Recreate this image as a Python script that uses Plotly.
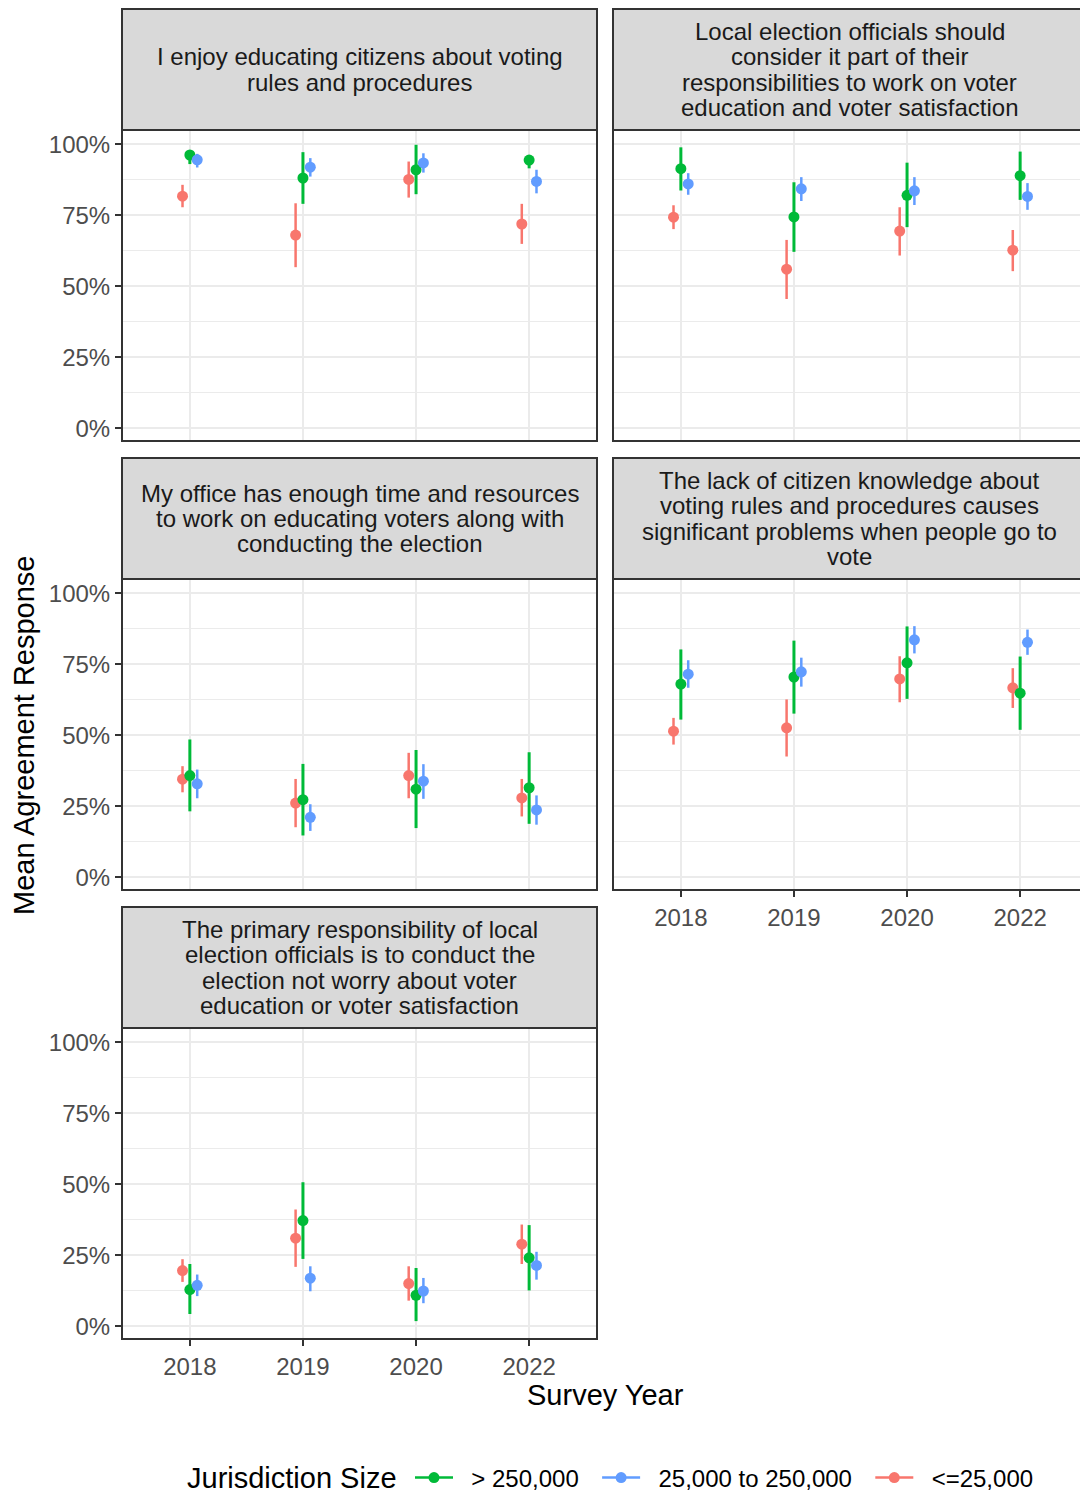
import plotly.graph_objects as go

# ---------------- data ----------------
years = ["2018", "2019", "2020", "2022"]
groups = ["> 250,000", "25,000 to 250,000", "<=25,000"]
colors = {"> 250,000": "#00BA38", "25,000 to 250,000": "#619CFF", "<=25,000": "#F8766D"}

titles = [
    ["I enjoy educating citizens about voting", "rules and procedures"],
    ["Local election officials should", "consider it part of their",
     "responsibilities to work on voter", "education and voter satisfaction"],
    ["My office has enough time and resources", "to work on educating voters along with",
     "conducting the election"],
    ["The lack of citizen knowledge about", "voting rules and procedures causes",
     "significant problems when people go to", "vote"],
    ["The primary responsibility of local", "election officials is to conduct the",
     "election not worry about voter", "education or voter satisfaction"],
]

# panel 1: I enjoy educating citizens
p1_large_mean = [0.962, 0.881, 0.910, 0.944]
p1_large_lo   = [0.930, 0.790, 0.824, 0.915]
p1_large_hi   = [0.975, 0.972, 0.998, 0.960]
p1_mid_mean   = [0.945, 0.919, 0.934, 0.869]
p1_mid_lo     = [0.918, 0.886, 0.900, 0.827]
p1_mid_hi     = [0.966, 0.951, 0.968, 0.910]
p1_small_mean = [0.817, 0.680, 0.876, 0.719]
p1_small_lo   = [0.778, 0.567, 0.812, 0.649]
p1_small_hi   = [0.857, 0.792, 0.939, 0.790]

# panel 2: Local election officials should consider...
p2_large_mean = [0.914, 0.744, 0.820, 0.889]
p2_large_lo   = [0.837, 0.621, 0.708, 0.804]
p2_large_hi   = [0.989, 0.866, 0.935, 0.974]
p2_mid_mean   = [0.860, 0.843, 0.836, 0.816]
p2_mid_lo     = [0.822, 0.800, 0.786, 0.769]
p2_mid_hi     = [0.898, 0.884, 0.884, 0.863]
p2_small_mean = [0.743, 0.560, 0.694, 0.627]
p2_small_lo   = [0.701, 0.455, 0.608, 0.553]
p2_small_hi   = [0.785, 0.663, 0.778, 0.698]

# panel 3: My office has enough time and resources
p3_large_mean = [0.358, 0.273, 0.310, 0.315]
p3_large_lo   = [0.232, 0.147, 0.173, 0.188]
p3_large_hi   = [0.485, 0.399, 0.448, 0.440]
p3_mid_mean   = [0.329, 0.211, 0.338, 0.237]
p3_mid_lo     = [0.278, 0.163, 0.276, 0.185]
p3_mid_hi     = [0.379, 0.257, 0.398, 0.288]
p3_small_mean = [0.345, 0.261, 0.358, 0.279]
p3_small_lo   = [0.299, 0.176, 0.278, 0.214]
p3_small_hi   = [0.391, 0.346, 0.438, 0.346]

# panel 4: The lack of citizen knowledge...
p4_large_mean = [0.680, 0.705, 0.755, 0.648]
p4_large_lo   = [0.555, 0.576, 0.628, 0.519]
p4_large_hi   = [0.802, 0.833, 0.883, 0.777]
p4_mid_mean   = [0.715, 0.723, 0.836, 0.827]
p4_mid_lo     = [0.667, 0.671, 0.788, 0.783]
p4_mid_hi     = [0.764, 0.773, 0.884, 0.872]
p4_small_mean = [0.514, 0.526, 0.698, 0.667]
p4_small_lo   = [0.467, 0.425, 0.616, 0.596]
p4_small_hi   = [0.561, 0.626, 0.778, 0.736]

# panel 5: The primary responsibility...
p5_large_mean = [0.129, 0.372, 0.109, 0.241]
p5_large_lo   = [0.043, 0.237, 0.018, 0.126]
p5_large_hi   = [0.219, 0.507, 0.205, 0.356]
p5_mid_mean   = [0.144, 0.169, 0.124, 0.214]
p5_mid_lo     = [0.106, 0.123, 0.081, 0.164]
p5_mid_hi     = [0.182, 0.211, 0.170, 0.262]
p5_small_mean = [0.196, 0.310, 0.150, 0.289]
p5_small_lo   = [0.156, 0.209, 0.090, 0.219]
p5_small_hi   = [0.236, 0.411, 0.211, 0.358]

panels = [
    {"> 250,000": (p1_large_mean, p1_large_lo, p1_large_hi),
     "25,000 to 250,000": (p1_mid_mean, p1_mid_lo, p1_mid_hi),
     "<=25,000": (p1_small_mean, p1_small_lo, p1_small_hi)},
    {"> 250,000": (p2_large_mean, p2_large_lo, p2_large_hi),
     "25,000 to 250,000": (p2_mid_mean, p2_mid_lo, p2_mid_hi),
     "<=25,000": (p2_small_mean, p2_small_lo, p2_small_hi)},
    {"> 250,000": (p3_large_mean, p3_large_lo, p3_large_hi),
     "25,000 to 250,000": (p3_mid_mean, p3_mid_lo, p3_mid_hi),
     "<=25,000": (p3_small_mean, p3_small_lo, p3_small_hi)},
    {"> 250,000": (p4_large_mean, p4_large_lo, p4_large_hi),
     "25,000 to 250,000": (p4_mid_mean, p4_mid_lo, p4_mid_hi),
     "<=25,000": (p4_small_mean, p4_small_lo, p4_small_hi)},
    {"> 250,000": (p5_large_mean, p5_large_lo, p5_large_hi),
     "25,000 to 250,000": (p5_mid_mean, p5_mid_lo, p5_mid_hi),
     "<=25,000": (p5_small_mean, p5_small_lo, p5_small_hi)},
]

y_tickvals = [0, 0.25, 0.5, 0.75, 1.0]
y_ticktext = ["0%", "25%", "50%", "75%", "100%"]
y_minor = [0.125, 0.375, 0.625, 0.875]

# ---------------- layout geometry ----------------
W, H = 1080, 1494
FONT = "Liberation Sans, Arial, Helvetica, sans-serif"
TXT = 24
dodge = {"<=25,000": -0.065, "> 250,000": 0.0, "25,000 to 250,000": 0.065}

col_px = [(122, 597), (613, 1088)]
rows_px = [(9, 130, 441), (458, 579, 890), (907, 1028, 1339)]
pos = [(0, 0), (0, 1), (1, 0), (1, 1), (2, 0)]  # (row, col)
show_x = [False, False, False, True, True]
show_y = [True, False, True, False, True]


def fx(px):
    return px / W


def fy(py):
    return 1 - py / H


fig = go.Figure()
shapes = []
annotations = []
layout_axes = {}
px_per_unit = (597 - 122) / 4.2

for i, data in enumerate(panels):
    r, c = pos[i]
    x0p, x1p = col_px[c]
    stop, ptop, pbot = rows_px[r]
    xa = "x" if i == 0 else f"x{i+1}"
    ya = "y" if i == 0 else f"y{i+1}"
    xkey = "xaxis" if i == 0 else f"xaxis{i+1}"
    ykey = "yaxis" if i == 0 else f"yaxis{i+1}"

    x1_vis = min(x1p, W)
    xr_hi = 0.4 + (x1_vis - x0p) / px_per_unit

    for g in ["<=25,000", "> 250,000", "25,000 to 250,000"]:
        m, lo, hi = data[g]
        xs = [k + 1 + dodge[g] for k in range(len(years))]
        fig.add_trace(go.Scatter(
            x=xs, y=m, mode="markers", xaxis=xa, yaxis=ya,
            marker=dict(color=colors[g], size=11),
            error_y=dict(type="data", symmetric=False,
                         array=[h - v for h, v in zip(hi, m)],
                         arrayminus=[v - l for v, l in zip(m, lo)],
                         width=0, thickness=3 if g == "> 250,000" else 2.5,
                         color=colors[g]),
            showlegend=False, hoverinfo="skip"))

    layout_axes[xkey] = dict(
        domain=[fx(x0p), min(fx(x1_vis), 1.0)], range=[0.4, xr_hi], anchor=ya,
        tickvals=[1, 2, 3, 4], ticktext=years, showticklabels=show_x[i],
        ticks="outside" if show_x[i] else "", ticklen=6, tickwidth=2, tickcolor="#333333",
        showgrid=True, gridcolor="#ebebeb", gridwidth=2.2, zeroline=False, showline=False,
        tickfont=dict(size=TXT, color="#4d4d4d", family=FONT), fixedrange=True)
    layout_axes[ykey] = dict(
        domain=[fy(pbot), fy(ptop)], range=[-0.045, 1.05], anchor=xa,
        tickvals=y_tickvals, ticktext=y_ticktext, showticklabels=show_y[i],
        ticks="outside" if show_y[i] else "", ticklen=6, tickwidth=2, tickcolor="#333333",
        showgrid=True, gridcolor="#ebebeb", gridwidth=2.2, zeroline=False, showline=False,
        minor=dict(tickvals=y_minor, showgrid=True, gridcolor="#ebebeb", gridwidth=1.1, ticks=""),
        tickfont=dict(size=TXT, color="#4d4d4d", family=FONT), fixedrange=True)

    # strip
    shapes.append(dict(type="rect", xref="paper", yref="paper",
                       x0=fx(x0p), x1=fx(x1p), y0=fy(ptop), y1=fy(stop),
                       fillcolor="#d9d9d9", line=dict(color="#333333", width=2), layer="above"))
    # panel border
    shapes.append(dict(type="rect", xref="paper", yref="paper",
                       x0=fx(x0p), x1=fx(x1p), y0=fy(pbot), y1=fy(ptop),
                       fillcolor="rgba(0,0,0,0)", line=dict(color="#333333", width=2), layer="above"))
    lines = titles[i]
    n = len(lines)
    cy = (stop + ptop) / 2
    cx = (x0p + x1p) / 2 if c == 0 else (613 + 1086) / 2
    for j, t in enumerate(lines):
        ly = cy + (j - (n - 1) / 2) * 25.4
        annotations.append(dict(text=t, xref="paper", yref="paper",
                                x=fx(cx), y=fy(ly), xanchor="center", yanchor="middle",
                                showarrow=False,
                                font=dict(size=TXT, color="#1a1a1a", family=FONT)))

# axis titles
annotations.append(dict(text="Mean Agreement Response", xref="paper", yref="paper",
                        x=fx(24), y=fy(735), textangle=-90, showarrow=False,
                        xanchor="center", yanchor="middle",
                        font=dict(size=29, color="black", family=FONT)))
annotations.append(dict(text="Survey Year", xref="paper", yref="paper",
                        x=fx(605), y=fy(1395), showarrow=False,
                        xanchor="center", yanchor="middle",
                        font=dict(size=29, color="black", family=FONT)))
# legend title
annotations.append(dict(text="Jurisdiction Size", xref="paper", yref="paper",
                        x=fx(185), y=fy(1478), showarrow=False,
                        xanchor="left", yanchor="middle",
                        font=dict(size=29, color="black", family=FONT)))

# legend-only traces (line + point key)
NB = "\u00a0"
for k, g in enumerate(groups):
    label = NB * 2 + g + (NB * 2 if k < len(groups) - 1 else "")
    fig.add_trace(go.Scatter(x=[None], y=[None], mode="lines+markers", name=label,
                             line=dict(color=colors[g], width=2.5),
                             marker=dict(color=colors[g], size=11),
                             xaxis="x", yaxis="y", showlegend=True))

fig.update_layout(
    width=W, height=H, margin=dict(l=0, r=0, t=0, b=0, autoexpand=False),
    paper_bgcolor="white", plot_bgcolor="white",
    shapes=shapes, annotations=annotations,
    legend=dict(orientation="h", x=fx(410), xanchor="left", y=fy(1478), yanchor="middle",
                font=dict(size=TXT, color="black", family=FONT),
                itemwidth=38, bgcolor="rgba(0,0,0,0)"),
    **layout_axes,
)

page_fix = (
    "document.documentElement.style.margin='0px';"
    "document.documentElement.style.padding='0px';"
    "document.body.style.margin='0px';"
    "document.body.style.padding='0px';"
)

fig.write_html("out.html", config={"displayModeBar": False}, post_script=page_fix)
